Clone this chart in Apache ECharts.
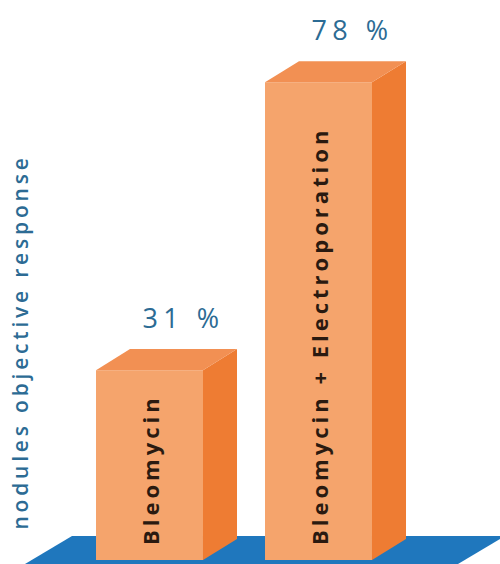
<!DOCTYPE html>
<html>
<head>
<meta charset="utf-8">
<script src="https://cdn.jsdelivr.net/npm/echarts@6/dist/echarts.min.js"></script>
<style>
  html, body { margin: 0; padding: 0; background: #ffffff; }
  #chart { width: 500px; height: 564px; }
</style>
</head>
<body>
<div id="chart"></div>
<script>
// Treatments compared and their objective response rate (%)
const categories = ['Bleomycin', 'Bleomycin + Electroporation'];
const responseRate = [31, 78];
const axisTitle = 'nodules objective response';

const FRONT = '#F5A46C';
const SIDE = '#EE7C33';
const TOP = '#F29053';
const FLOOR = '#1F77BD';
const LABEL = '#2C6B94';

const chart = echarts.init(document.getElementById('chart'), null, { renderer: 'svg' });

// 3D-looking box drawn from the value scale
function renderBox(params, api) {
  const idx = api.value(0);
  const val = api.value(1);
  const top = api.coord([idx, val]);
  const base = api.coord([idx, 0]);
  const band = api.size([1, 0])[0];
  const w = band * 0.633;
  const dx = w * 0.318;
  const dy = -dx * 0.62;
  const x0 = top[0] - w / 2;
  const x1 = top[0] + w / 2;
  return {
    type: 'group',
    children: [
      { type: 'rect', shape: { x: x0, y: top[1], width: w, height: base[1] - top[1] },
        style: { fill: FRONT } },
      { type: 'polygon', shape: { points: [[x1, top[1]], [x1 + dx, top[1] + dy], [x1 + dx, base[1] + dy], [x1, base[1]]] },
        style: { fill: SIDE } },
      { type: 'polygon', shape: { points: [[x0, top[1]], [x0 + dx, top[1] + dy], [x1 + dx, top[1] + dy], [x1, top[1]]] },
        style: { fill: TOP } },
      { type: 'text', x: top[0] + dx, y: top[1] + dy - 32,
        style: { text: val + ' %', fill: LABEL, font: '27px "Open Sans"', align: 'center', verticalAlign: 'middle',
                 textAlign: 'center', textVerticalAlign: 'middle' } },
      { type: 'text', x: top[0], y: base[1] - 15, rotation: Math.PI / 2,
        style: { text: categories[idx], fill: '#2a1a10', font: 'bold 22px "Open Sans"', align: 'left', verticalAlign: 'middle',
                 textAlign: 'left', textVerticalAlign: 'middle' } }
    ]
  };
}

chart.setOption({
  animation: false,
  grid: { left: 65, right: 97, top: 70, bottom: 4 },
  xAxis: { type: 'category', data: categories, show: false },
  yAxis: { type: 'value', min: 0, max: 80, show: false },
  graphic: [
    { type: 'polygon', z: -1, shape: { points: [[25, 564], [72, 536], [505, 536], [458, 564]] },
      style: { fill: FLOOR } },
    { type: 'text', x: 20, y: 342, rotation: Math.PI / 2,
      style: { text: axisTitle, fill: LABEL, font: '600 21px "Open Sans"', align: 'center', verticalAlign: 'middle',
               textAlign: 'center', textVerticalAlign: 'middle' } }
  ],
  series: [{
    type: 'custom',
    renderItem: renderBox,
    data: responseRate.map((v, i) => [i, v])
  }]
});

// widen the tracking of the lettering
document.querySelectorAll('#chart text').forEach(t => {
  const s = t.textContent;
  if (s === axisTitle) t.style.letterSpacing = '3.8px';
  else if (s.indexOf('%') >= 0) t.style.letterSpacing = '5.5px';
  else t.style.letterSpacing = '4px';
});
</script>
</body>
</html>
